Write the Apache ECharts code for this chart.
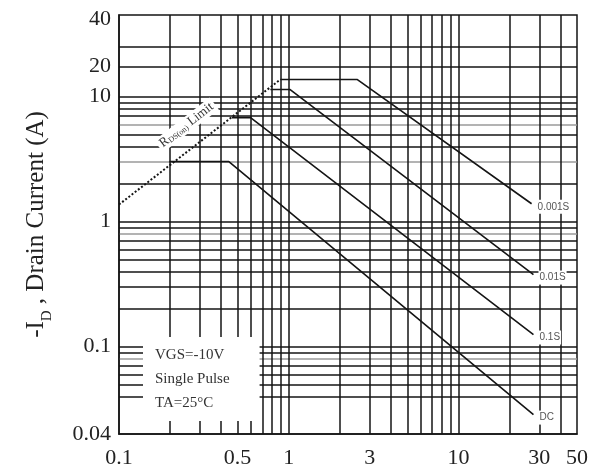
<!DOCTYPE html>
<html>
<head>
<meta charset="utf-8">
<script src="https://cdn.jsdelivr.net/npm/echarts@6/dist/echarts.min.js"></script>
<style>
  html, body { margin: 0; padding: 0; background: #fff; }
  #main { width: 591px; height: 470px; }
</style>
</head>
<body>
<div id="main"></div>
<script>
// grid lines and tick labels
const xGrid = [0.2, 0.3, 0.4, 0.5, 0.6, 0.7, 0.8, 0.9, 1, 2, 3, 4, 5, 6, 7, 8, 9, 10, 20, 30, 40];
const xTickLabels = [0.1, 0.5, 1, 3, 10, 30, 50];
const yGrid = [0.04, 0.05, 0.06, 0.07, 0.08, 0.09, 0.1, 0.2, 0.3, 0.4, 0.5, 0.6, 0.7, 0.8, 0.9,
               1, 2, 3, 4, 5, 6, 7, 8, 9, 10, 17.5, 25];
const yGrayLines = [0.08, 0.8, 3, 6];
const yLabelValues = [0.02, 0.1, 1, 10, 17.5, 42];
const yLabelTexts = ['0.04', '0.1', '1', '10', '20', '40'];

// curves (Vds, Id)
const rdsX = [0.1, 0.892];
const rdsY = [1.37, 13.7];
const p0001X = [0.892, 2.54, 27.0];
const p0001Y = [13.7, 13.7, 1.39];
const p001X = [0.78, 1.02, 27.7];
const p001Y = [11.4, 11.4, 0.377];
const p01X = [0.462, 0.596, 27.7];
const p01Y = [6.79, 6.79, 0.125];
const dcX = [0.198, 0.444, 27.7];
const dcY = [3.02, 3.02, 0.0286];

function pts(xs, ys) {
    return xs.map(function (x, i) { return [x, ys[i]]; });
}

var serif = 'Liberation Serif';
var lineColor = '#151515';

function curve(name, xs, ys) {
    return {
        name: name,
        type: 'line',
        data: pts(xs, ys),
        symbol: 'none',
        silent: true,
        lineStyle: { color: lineColor, width: 1.6 },
        endLabel: {
            show: true,
            formatter: name,
            distance: 5,
            offset: [0, 3],
            fontFamily: 'Liberation Sans',
            fontSize: 10,
            color: '#555',
            backgroundColor: '#fff',
            padding: [2, 1]
        }
    };
}

var myChart = echarts.init(document.getElementById('main'));

var option = {
    animation: false,
    title: {
        text: 'VGS=-10V\nSingle Pulse\nTA=25°C',
        left: 143,
        top: 337,
        backgroundColor: '#fff',
        padding: [6, 30, 6, 12],
        textStyle: {
            fontFamily: serif,
            fontSize: 15,
            fontWeight: 'normal',
            lineHeight: 24,
            color: '#333'
        }
    },
    grid: {
        left: 119, right: 9, top: 15, bottom: 36,
        show: true,
        borderColor: lineColor,
        borderWidth: 1.5
    },
    xAxis: {
        type: 'log',
        min: 0.1,
        max: 50,
        axisLine: { lineStyle: { color: lineColor, width: 1.5 } },
        axisTick: { show: false, customValues: xGrid },
        axisLabel: {
            customValues: xTickLabels,
            fontFamily: serif,
            fontSize: 22,
            color: '#222',
            margin: 13
        },
        splitLine: { show: true, lineStyle: { color: lineColor, width: 1.5 } }
    },
    yAxis: {
        type: 'log',
        min: 0.02,
        max: 45,
        name: '-I{s|D} , Drain Current (A)',
        nameLocation: 'middle',
        nameGap: 70,
        nameTextStyle: {
            fontFamily: serif,
            fontSize: 25,
            color: '#222',
            rich: { s: { fontFamily: serif, fontSize: 15, color: '#222', verticalAlign: 'bottom', padding: [0, 0, -6, 0] } }
        },
        axisLine: { lineStyle: { color: lineColor, width: 1.5 } },
        axisTick: { show: false, customValues: yGrid },
        axisLabel: {
            customValues: yLabelValues,
            fontFamily: serif,
            fontSize: 22,
            color: '#222',
            margin: 8,
            formatter: function (v) {
                var best = 0;
                for (var i = 1; i < yLabelValues.length; i++) {
                    if (Math.abs(Math.log(yLabelValues[i] / v)) < Math.abs(Math.log(yLabelValues[best] / v))) best = i;
                }
                return yLabelTexts[best];
            }
        },
        splitLine: {
            show: true,
            lineStyle: {
                color: yGrid.map(function (v) { return yGrayLines.indexOf(v) >= 0 ? '#9a9a9a' : lineColor; }),
                width: 1.5
            }
        }
    },
    series: [
        {
            name: 'RDS(on) Limit',
            type: 'line',
            data: pts(rdsX, rdsY),
            symbol: 'none',
            silent: true,
            lineStyle: { color: lineColor, width: 2, type: 'dotted' },
            markLine: {
                silent: true,
                symbol: 'none',
                lineStyle: { color: 'rgba(0,0,0,0)', width: 1, type: 'solid' },
                label: {
                    show: true,
                    position: 'insideMiddleTop',
                    distance: 14,
                    formatter: 'R{s|DS(on)} Limit',
                    fontFamily: serif,
                    fontSize: 13,
                    color: '#333',
                    backgroundColor: '#fff',
                    padding: [1, 3],
                    rich: { s: { fontFamily: serif, fontSize: 8, color: '#333', verticalAlign: 'bottom' } }
                },
                data: [[{ coord: [rdsX[0], rdsY[0]] }, { coord: [rdsX[1], rdsY[1]] }]]
            }
        },
        curve('0.001S', p0001X, p0001Y),
        curve('0.01S', p001X, p001Y),
        curve('0.1S', p01X, p01Y),
        curve('DC', dcX, dcY)
    ]
};

myChart.setOption(option);
</script>
</body>
</html>
